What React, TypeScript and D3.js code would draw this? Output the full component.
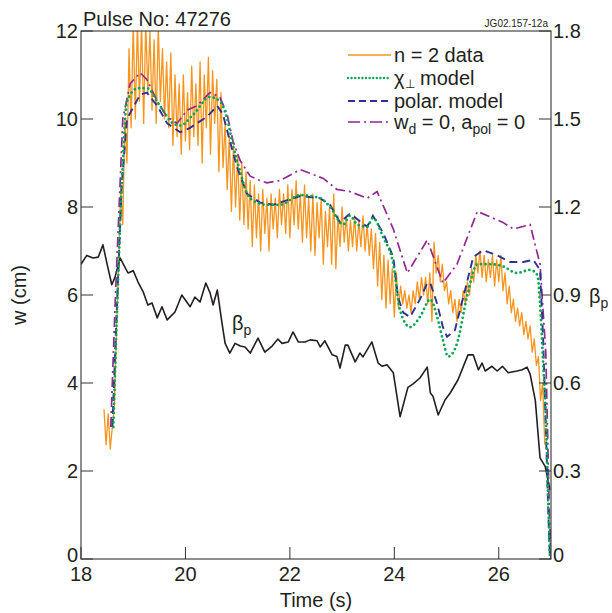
import React from "react";
import * as d3 from "d3";

const W = 612;
const H = 613;
const PL = 81, PR = 551, PT = 31, PB = 559;
const FONT = "'Liberation Sans', Arial, Helvetica, sans-serif";

const xTicks = [18, 20, 22, 24, 26];
const wTicks = [0, 2, 4, 6, 8, 10, 12];
const betaTicks = [0, 0.3, 0.6, 0.9, 1.2, 1.5, 1.8];
const betaTickLabels = ["0", "0.3", "0.6", "0.9", "1.2", "1.5", "1.8"];

// n = 2 data (sampled every 0.04 s from 18.44 s)
const dataStart = 18.44;
const dataStep = 0.04;
const dataW = [
  3.4, 2.6, 3.3, 2.5, 3.0, 3.5,
  5.2, 6.6, 8.4, 7.6, 10.0, 9.0, 11.6, 9.8,
  12.2, 10.0, 12.2, 10.4, 12.2, 9.9, 12.2, 10.6,
  12.0, 10.2, 11.8, 9.9, 12.1, 10.4, 11.6, 10.0,
  11.3, 9.8, 11.5, 9.4, 11.0, 9.6, 10.8, 9.2,
  11.0, 9.5, 10.6, 9.3, 11.2, 9.6, 10.8, 9.4,
  11.3, 9.0, 11.0, 9.8, 11.4, 9.2, 11.1, 9.9,
  10.9, 8.8, 10.6, 8.9, 9.9, 8.4, 9.6, 7.9,
  9.4, 8.0, 9.2, 7.7, 9.0, 7.6, 8.8, 7.5,
  8.6, 7.1, 8.5, 7.3, 8.3, 7.0, 8.4, 7.4,
  8.2, 7.0, 8.3, 7.5, 8.2, 7.3, 8.4, 7.6,
  8.3, 7.4, 8.5, 7.3, 8.4, 7.6, 8.6, 7.5,
  8.3, 7.2, 8.5, 7.3, 8.2, 7.0, 8.3, 6.9,
  8.1, 7.3, 8.2, 6.7, 7.9, 7.1, 8.0, 6.7,
  8.3, 6.6, 7.8, 7.1, 8.0, 7.2, 7.8, 7.0,
  7.7, 7.1, 7.8, 7.0, 7.7, 7.1, 7.8, 7.0,
  7.6, 6.9, 7.5, 6.6, 7.4, 6.2, 7.2, 5.9,
  6.9, 5.7, 6.8, 5.8, 6.6, 5.5, 6.5, 5.7,
  6.2, 5.8, 6.1, 5.7, 6.0, 5.6, 6.1, 5.8,
  6.3, 5.9, 6.4, 6.0, 6.4, 5.8, 6.5, 5.4,
  7.2, 6.5, 6.9, 6.3, 6.7, 6.1, 6.3, 5.8,
  6.1, 5.6, 5.9, 5.4, 5.9, 5.6, 6.1, 5.8,
  6.3, 6.0, 6.6, 6.3, 6.9, 6.5, 7.0, 6.4,
  6.9, 6.3, 6.8, 6.4, 6.9, 6.2, 6.8, 6.3,
  6.9, 6.1, 6.5, 5.8, 6.2, 5.6, 5.9, 5.4,
  5.7, 5.3, 5.6, 5.1, 5.4, 5.0, 5.3, 4.7,
  5.0, 4.4, 4.6, 3.6, 4.0, 2.6,
];

// chi_perp model
const chiT = [18.62, 18.70, 18.80, 18.88, 19.09, 19.26, 19.51, 19.76, 19.90, 20.15, 20.47, 20.66, 20.80, 20.91, 21.05, 21.18, 21.37, 21.56, 21.81, 22.20, 22.58, 22.77, 23.02, 23.15, 23.29, 23.48, 23.59, 23.79, 23.98, 24.11, 24.30, 24.49, 24.69, 24.82, 24.93, 25.03, 25.20, 25.39, 25.59, 25.84, 26.08, 26.35, 26.60, 26.74, 26.79, 26.85, 26.90, 26.95, 26.98];
const chiW = [3.0, 6.0, 9.0, 10.4, 10.7, 10.7, 10.3, 9.9, 9.85, 10.1, 10.5, 10.4, 10.0, 9.4, 8.8, 8.3, 8.1, 8.05, 8.05, 8.27, 8.2, 8.0, 7.6, 7.8, 7.6, 7.55, 7.75, 7.3, 6.7, 5.65, 5.27, 5.5, 5.9, 5.5, 4.98, 4.6, 4.9, 5.95, 6.7, 6.7, 6.65, 6.5, 6.57, 6.45, 5.8, 4.45, 3.3, 1.2, 0];

// polarisation model
const polT = [18.60, 18.68, 18.78, 18.88, 19.13, 19.26, 19.46, 19.65, 19.90, 20.09, 20.41, 20.61, 20.72, 20.85, 20.99, 21.18, 21.43, 21.68, 22.20, 22.58, 22.77, 22.96, 23.15, 23.48, 23.59, 23.79, 23.98, 24.07, 24.17, 24.30, 24.49, 24.63, 24.69, 24.82, 24.93, 25.01, 25.16, 25.32, 25.51, 25.70, 25.97, 26.22, 26.47, 26.66, 26.79, 26.85, 26.90, 26.95, 26.98];
const polW = [3.0, 5.5, 8.5, 10.0, 10.55, 10.6, 10.3, 9.9, 9.7, 9.8, 10.05, 10.3, 10.1, 9.5, 8.9, 8.3, 8.1, 8.05, 8.25, 8.2, 8.05, 7.65, 7.85, 7.55, 7.8, 7.4, 6.86, 5.95, 5.6, 5.5, 5.9, 6.27, 6.27, 5.8, 5.27, 5.05, 5.2, 5.95, 6.86, 7.02, 6.9, 6.75, 6.75, 6.8, 6.57, 5.0, 3.0, 1.0, 0];

// w_d = 0, a_pol = 0
const noPolT = [18.57, 18.66, 18.80, 18.94, 19.13, 19.26, 19.46, 19.65, 19.84, 20.03, 20.22, 20.47, 20.66, 20.80, 20.91, 21.05, 21.24, 21.43, 21.56, 21.81, 22.20, 22.64, 22.90, 23.15, 23.48, 23.67, 23.98, 24.25, 24.63, 24.93, 25.20, 25.59, 26.08, 26.28, 26.60, 26.79, 26.90, 26.97, 27.0];
const noPolW = [3.0, 6.0, 10.0, 10.8, 11.05, 10.9, 10.4, 10.05, 9.9, 10.2, 10.3, 10.6, 10.5, 10.1, 9.5, 9.05, 8.7, 8.6, 8.55, 8.6, 8.85, 8.65, 8.4, 8.35, 8.2, 8.35, 7.5, 6.5, 7.25, 6.27, 6.7, 7.9, 7.65, 7.5, 7.6, 6.7, 4.7, 1.0, 0];

// beta_p (right axis)
const betaT = [18.0, 18.11, 18.23, 18.33, 18.42, 18.50, 18.59, 18.65, 18.75, 18.90, 19.00, 19.09, 19.19, 19.28, 19.36, 19.46, 19.55, 19.65, 19.80, 19.93, 20.09, 20.18, 20.28, 20.39, 20.47, 20.53, 20.61, 20.70, 20.76, 20.85, 20.95, 21.05, 21.14, 21.24, 21.39, 21.52, 21.66, 21.77, 21.85, 21.97, 22.06, 22.16, 22.29, 22.39, 22.52, 22.58, 22.67, 22.81, 22.90, 22.96, 23.06, 23.11, 23.25, 23.34, 23.40, 23.57, 23.69, 23.77, 23.86, 23.98, 24.11, 24.26, 24.36, 24.49, 24.63, 24.69, 24.74, 24.84, 24.97, 25.07, 25.22, 25.41, 25.51, 25.61, 25.68, 25.74, 25.87, 25.97, 26.07, 26.18, 26.35, 26.45, 26.54, 26.60, 26.70, 26.79, 26.89, 26.98];
const betaP = [1.005, 1.035, 1.026, 1.029, 1.071, 1.005, 0.935, 0.96, 1.026, 0.975, 0.983, 0.945, 0.911, 0.866, 0.873, 0.822, 0.86, 0.815, 0.842, 0.9, 0.86, 0.893, 0.876, 0.941, 0.908, 0.866, 0.917, 0.804, 0.735, 0.702, 0.735, 0.726, 0.723, 0.702, 0.753, 0.705, 0.726, 0.75, 0.735, 0.74, 0.774, 0.74, 0.74, 0.747, 0.744, 0.723, 0.744, 0.696, 0.69, 0.651, 0.729, 0.729, 0.672, 0.702, 0.689, 0.74, 0.668, 0.657, 0.662, 0.635, 0.485, 0.585, 0.597, 0.617, 0.654, 0.566, 0.555, 0.491, 0.542, 0.566, 0.611, 0.696, 0.696, 0.645, 0.668, 0.641, 0.657, 0.641, 0.657, 0.635, 0.641, 0.645, 0.654, 0.63, 0.54, 0.345, 0.315, 0.236];

const ORANGE = "#F7941D";
const GREEN = "#00A651";
const BLUE = "#2E3192";
const PURPLE = "#92278F";
const BLACK = "#231F20";

export default function App() {
  const x = d3.scaleLinear().domain([18, 27]).range([PL, PR]);
  const y = d3.scaleLinear().domain([0, 12]).range([PB, PT]);
  const yb = d3.scaleLinear().domain([0, 1.8]).range([PB, PT]);

  const lineXY = d3.line<[number, number]>().x((d) => x(d[0])).y((d) => y(d[1]));
  const lineB = d3.line<[number, number]>().x((d) => x(d[0])).y((d) => yb(d[1]));
  const lineSmooth = d3.line<[number, number]>().x((d) => x(d[0])).y((d) => y(d[1])).curve(d3.curveMonotoneX);

  const dataPts: [number, number][] = dataW.map((v, i) => [dataStart + i * dataStep, v]);
  const chiPts: [number, number][] = chiT.map((t, i) => [t, chiW[i]]);
  const polPts: [number, number][] = polT.map((t, i) => [t, polW[i]]);
  const noPolPts: [number, number][] = noPolT.map((t, i) => [t, noPolW[i]]);
  const betaPts: [number, number][] = betaT.map((t, i) => [t, betaP[i]]);

  const legendX1 = 348, legendX2 = 391, legendTextX = 394;
  const legendRows = [55, 78, 101, 122];

  return (
    <svg width={W} height={H} style={{ display: "block", position: "absolute", left: 0, top: 0 }} fontFamily={FONT}>
      <defs>
        <clipPath id="plotClip">
          <rect x={PL} y={PT} width={PR - PL} height={PB - PT} />
        </clipPath>
      </defs>
      <rect x={0} y={0} width={W} height={H} fill="#fff" />

      <g clipPath="url(#plotClip)">
        <path d={lineXY(dataPts) || ""} fill="none" stroke={ORANGE} strokeWidth={1.3} strokeLinejoin="round" />
        <path d={lineB(betaPts) || ""} fill="none" stroke={BLACK} strokeWidth={1.6} strokeLinejoin="round" />
        <path d={lineXY(noPolPts) || ""} fill="none" stroke={PURPLE} strokeWidth={1.7} strokeDasharray="10 4 2 4" />
        <path d={lineXY(polPts) || ""} fill="none" stroke={BLUE} strokeWidth={1.9} strokeDasharray="8 5" />
        <path d={lineSmooth(chiPts) || ""} fill="none" stroke={GREEN} strokeWidth={2.8} strokeDasharray="0 4.6" strokeLinecap="round" />
      </g>

      {/* frame */}
      <rect x={PL} y={PT} width={PR - PL} height={PB - PT} fill="none" stroke="#333" strokeWidth={1.1} />

      {/* left ticks */}
      {wTicks.map((t) => (
        <g key={"l" + t}>
          <line x1={PL} x2={PL + 12} y1={y(t)} y2={y(t)} stroke="#333" strokeWidth={1} />
          <text x={PL - 3} y={y(t) - (t === 0 ? 4 : 0)} textAnchor="end" dominantBaseline="central" fontSize={20} fill="#231F20">{t}</text>
        </g>
      ))}
      {/* right ticks */}
      {betaTicks.map((t, i) => (
        <g key={"r" + t}>
          <line x1={PR - 12} x2={PR} y1={yb(t)} y2={yb(t)} stroke="#333" strokeWidth={1} />
          <text x={PR + 2} y={yb(t) - (t === 0 ? 4 : 0)} textAnchor="start" dominantBaseline="central" fontSize={20} fill="#231F20">{betaTickLabels[i]}</text>
        </g>
      ))}
      {/* bottom ticks */}
      {xTicks.map((t) => (
        <g key={"b" + t}>
          <line x1={x(t)} x2={x(t)} y1={PB} y2={PB - 12} stroke="#333" strokeWidth={1} />
          <text x={x(t)} y={PB + 22} textAnchor="middle" fontSize={20} fill="#231F20">{t}</text>
        </g>
      ))}

      {/* titles */}
      <text x={83} y={26} fontSize={20} fill="#231F20">Pulse No: 47276</text>
      <text x={548} y={27} fontSize={10} textAnchor="end" fill="#231F20">JG02.157-12a</text>
      <text x={316} y={607} fontSize={20} textAnchor="middle" fill="#231F20">Time (s)</text>
      <text transform={`translate(26,${(PT + PB) / 2}) rotate(-90)`} fontSize={20} textAnchor="middle" fill="#231F20">w (cm)</text>
      <text x={589} y={303} fontSize={20} fill="#231F20">β<tspan fontSize={14} dy={5}>p</tspan></text>
      <text x={232} y={330} fontSize={20} fill="#231F20">β<tspan fontSize={14} dy={5}>p</tspan></text>

      {/* legend */}
      <line x1={legendX1} x2={legendX2} y1={legendRows[0]} y2={legendRows[0]} stroke={ORANGE} strokeWidth={1.3} />
      <text x={legendTextX} y={legendRows[0] + 7} fontSize={20} fill="#231F20">n = 2 data</text>
      <line x1={legendX1} x2={legendX2} y1={legendRows[1]} y2={legendRows[1]} stroke={GREEN} strokeWidth={2.4} strokeDasharray="0 3.6" strokeLinecap="round" />
      <text x={legendTextX} y={legendRows[1] + 7} fontSize={20} fill="#231F20">χ<tspan fontSize={12} dy={3}>⊥</tspan><tspan dy={-3}> model</tspan></text>
      <line x1={legendX1} x2={legendX2} y1={legendRows[2]} y2={legendRows[2]} stroke={BLUE} strokeWidth={1.9} strokeDasharray="7 4" />
      <text x={legendTextX} y={legendRows[2] + 7} fontSize={20} fill="#231F20">polar. model</text>
      <line x1={legendX1} x2={legendX2} y1={legendRows[3]} y2={legendRows[3]} stroke={PURPLE} strokeWidth={1.7} strokeDasharray="12 4 2 4" />
      <text x={legendTextX} y={legendRows[3] + 7} fontSize={20} fill="#231F20">w<tspan fontSize={14} dy={5}>d</tspan><tspan dy={-5}> = 0, a</tspan><tspan fontSize={14} dy={5}>pol</tspan><tspan dy={-5}> = 0</tspan></text>
    </svg>
  );
}
